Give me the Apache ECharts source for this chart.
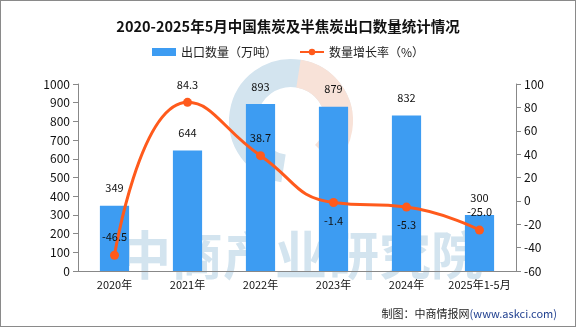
<!DOCTYPE html>
<html><head><meta charset="utf-8">
<script src="https://cdn.jsdelivr.net/npm/echarts@6/dist/echarts.min.js"></script>
<style>html,body{margin:0;padding:0;background:#fff}#c{width:576px;height:327px;box-sizing:border-box;border:1px solid #8a8a8a}</style>
</head><body><div id="c"></div>
<script>
const categories = ['2020年','2021年','2022年','2023年','2024年','2025年1-5月'];
const exportVolume = [349, 644, 893, 879, 832, 300];
const growthRate = [-46.5, 84.3, 38.7, -1.4, -5.3, -25.0];
const growthLabelPos = ['top','top','top','bottom','bottom','top'];
const leftTicks = [0, 1000, 100];
const rightTicks = [-60, 100, 20];

const font = '"Noto Sans CJK SC", "DejaVu Sans", sans-serif';
const chart = echarts.init(document.getElementById('c'));
chart.setOption({
  animation: false,
  textStyle: {fontFamily: font},
  title: {text: '2020-2025年5月中国焦炭及半焦炭出口数量统计情况', left: 'center', top: 13,
    textStyle: {fontSize: 14.5, fontWeight: 'bold', color: '#111', fontFamily: font}},
  legend: {top: 40, left: 'center', itemGap: 22, itemWidth: 24, itemHeight: 8,
    textStyle: {fontSize: 12, color: '#222'},
    data: [{name: '出口数量（万吨）', icon: 'rect'}, {name: '数量增长率（%）'}]},
  graphic: [
    {type: 'arc', shape: {cx: 290, cy: 120, r: 48, startAngle: Math.PI * 0.55, endAngle: Math.PI * 1.95}, style: {stroke: '#d3e4ef', lineWidth: 28, fill: null}, z: -1},
    {type: 'arc', shape: {cx: 290, cy: 120, r: 48, startAngle: -Math.PI * 0.45, endAngle: Math.PI * 0.25}, style: {stroke: '#f8e2d8', lineWidth: 28, fill: null}, z: -1},
    {type: 'text', left: 118, top: 228, style: {text: '中商产业研究院', fontSize: 52, fontWeight: 'bold', fill: '#d3e4ef', fontFamily: font}, z: -1},
    {type: 'text', right: 18, bottom: 7, style: {
      text: '{a|制图：中商情报网}{b|(www.askci.com)}',
      rich: {a: {fontSize: 11, fill: '#222', fontFamily: font}, b: {fontSize: 11, fill: '#1f3f8f', fontFamily: font}}}}
  ],
  grid: {left: 77, right: 59, top: 83, bottom: 55},
  xAxis: {type: 'category', data: categories,
    axisLine: {lineStyle: {color: '#888'}}, axisTick: {alignWithLabel: false, lineStyle: {color: '#888'}},
    axisLabel: {color: '#111', fontSize: 11, margin: 8, interval: 0}},
  yAxis: [
    {type: 'value', min: leftTicks[0], max: leftTicks[1], interval: leftTicks[2], splitLine: {show: false},
      axisLine: {show: true, lineStyle: {color: '#888'}}, axisTick: {show: true, lineStyle: {color: '#888'}},
      axisLabel: {color: '#111', fontSize: 12, formatter: v => String(v)}},
    {type: 'value', min: rightTicks[0], max: rightTicks[1], interval: rightTicks[2], splitLine: {show: false},
      axisLine: {show: true, lineStyle: {color: '#888'}}, axisTick: {show: true, lineStyle: {color: '#888'}},
      axisLabel: {color: '#111', fontSize: 12, formatter: v => String(v)}}
  ],
  series: [
    {name: '出口数量（万吨）', type: 'bar', data: exportVolume, barWidth: '40%',
      itemStyle: {color: '#3d9cf2'},
      label: {show: true, position: 'top', distance: 12, color: '#111', fontSize: 11}},
    {name: '数量增长率（%）', type: 'line', yAxisIndex: 1, smooth: true,
      data: growthRate.map((v, i) => ({value: v, label: {position: growthLabelPos[i]}})),
      symbol: 'circle', symbolSize: 9,
      lineStyle: {color: '#ff5a1c', width: 3}, itemStyle: {color: '#ff5a1c'},
      label: {show: true, distance: 8, color: '#111', fontSize: 11, formatter: p => p.value.toFixed(1)}}
  ]
});
</script>
</body></html>
